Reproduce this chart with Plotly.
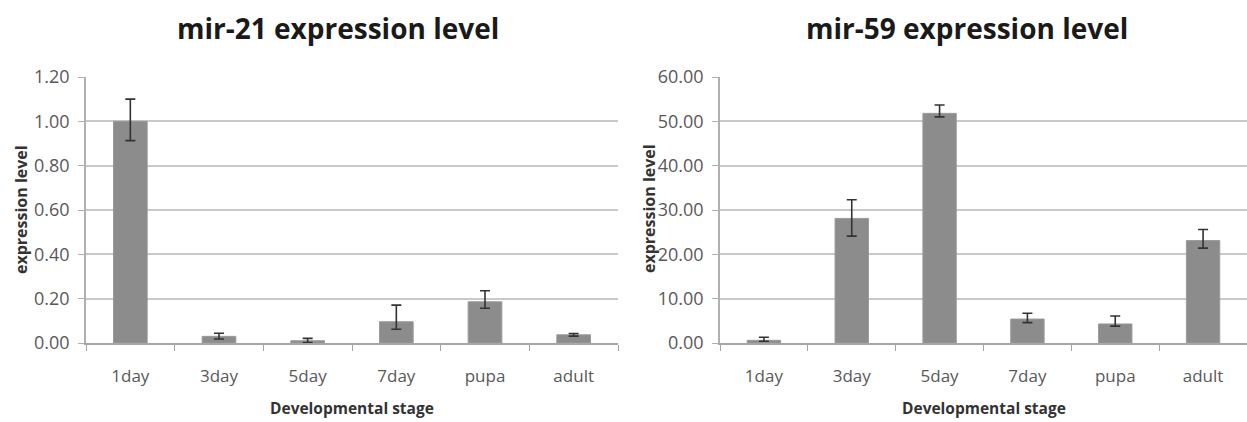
import plotly.graph_objects as go

stages = ["1day", "3day", "5day", "7day", "pupa", "adult"]

mir21_vals = [1.00, 0.03, 0.01, 0.096, 0.186, 0.037]
mir21_err_plus = [0.10, 0.014, 0.011, 0.075, 0.05, 0.006]
mir21_err_minus = [0.087, 0.012, 0.008, 0.034, 0.029, 0.006]

mir59_vals = [0.6, 28.1, 51.8, 5.4, 4.3, 23.1]
mir59_err_plus = [0.7, 4.2, 1.9, 1.3, 1.8, 2.5]
mir59_err_minus = [0.2, 4.0, 0.8, 0.8, 0.5, 1.7]

title_left = "mir-21 expression level"
title_right = "mir-59 expression level"
y_title = "expression level"
x_title = "Developmental stage"

W, H = 1247, 422
FONT = "Open Sans, sans-serif"
BAR = "#8c8c8c"
GRID = "#c9c9c9"
TICKC = "#595959"

fig = go.Figure()

def bar(vals, ep, em, xa, ya):
    return go.Bar(
        x=stages, y=vals, xaxis=xa, yaxis=ya,
        marker=dict(color=BAR, line=dict(color="#9a9a9a", width=1)),
        width=0.38,
        error_y=dict(type="data", symmetric=False, array=ep, arrayminus=em,
                     color="#333333", thickness=1.6, width=5),
        showlegend=False, hoverinfo="x+y",
    )

fig.add_trace(bar(mir21_vals, mir21_err_plus, mir21_err_minus, "x", "y"))
fig.add_trace(bar(mir59_vals, mir59_err_plus, mir59_err_minus, "x2", "y2"))

ydom = [1 - 343 / H, 1 - 77 / H]
xdom1 = [86 / W, 618 / W]
xdom2 = [720 / W, 1.0]

xcommon = dict(
    type="category", tickson="boundaries", ticks="outside", ticklen=6,
    tickcolor="#a6a6a6", showline=True, linecolor="#a6a6a6", linewidth=1.5,
    showgrid=False, tickfont=dict(family=FONT, size=17, color=TICKC),
    ticklabelstandoff=17, fixedrange=True, automargin=False,
)
ycommon = dict(
    showgrid=True, gridcolor=GRID, gridwidth=2, showline=True,
    linecolor="#b0b0b0", linewidth=1.5, ticks="outside", ticklen=6,
    tickcolor="#b0b0b0", tickformat=".2f", zeroline=False,
    tickfont=dict(family=FONT, size=18, color=TICKC), ticklabelstandoff=5,
    fixedrange=True, automargin=False,
)

fig.update_layout(
    width=W, height=H,
    margin=dict(l=0, r=0, t=0, b=0, pad=0, autoexpand=False),
    paper_bgcolor="white", plot_bgcolor="white",
    bargap=0.62,
    xaxis=dict(domain=xdom1, anchor="y", **xcommon),
    yaxis=dict(domain=ydom, anchor="x", range=[0, 1.2], dtick=0.2, **ycommon),
    xaxis2=dict(domain=xdom2, anchor="y2", **xcommon),
    yaxis2=dict(domain=ydom, anchor="x2", range=[0, 60], dtick=10, **ycommon),
)

def ann(text, x, y, size, angle=0, color="#1a1a1a"):
    fig.add_annotation(
        text=f"<b>{text}</b>", x=x / W, y=1 - y / H, xref="paper", yref="paper",
        showarrow=False, textangle=angle, xanchor="center", yanchor="middle",
        font=dict(family=FONT, size=size, color=color),
    )

ann(title_left, 338, 28, 28)
ann(title_right, 967, 28, 28)
ann(y_title, 21, 210, 16, angle=-90, color="#333333")
ann(y_title, 649, 209, 16, angle=-90, color="#333333")
ann(x_title, 352, 408, 15.5, color="#333333")
ann(x_title, 984, 408, 15.5, color="#333333")

fig.write_html(
    "out.html",
    config={"displayModeBar": False},
    post_script="document.body.style.margin='0';document.body.style.overflow='hidden';",
)
